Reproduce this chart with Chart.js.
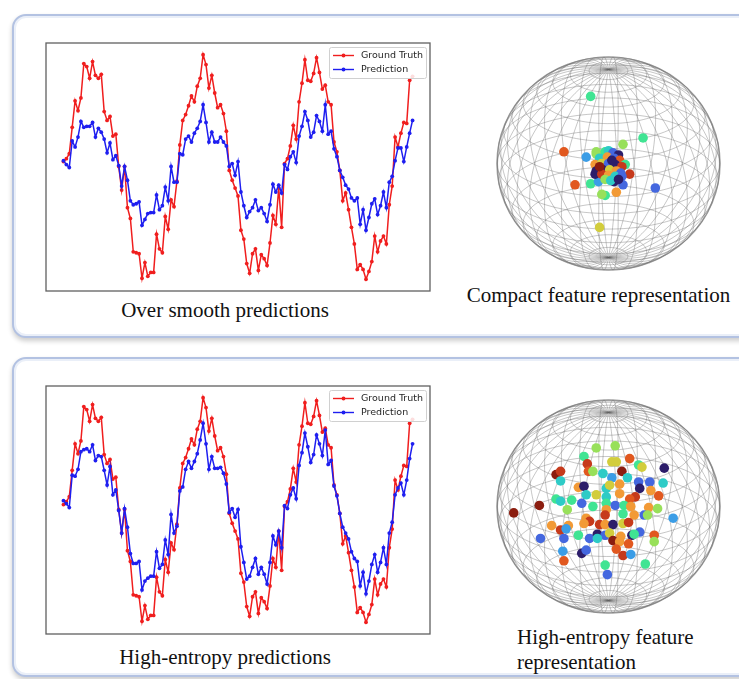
<!DOCTYPE html>
<html><head><meta charset="utf-8">
<script src="https://cdn.jsdelivr.net/npm/chart.js@4/dist/chart.umd.min.js"></script>
<style>
html,body{margin:0;padding:0;background:#fff;}
#root{position:relative;width:739px;height:679px;overflow:hidden;background:#fff;}
.panel{position:absolute;box-sizing:border-box;border:2px solid #b3c2e2;border-radius:14px;
  box-shadow:0 3px 5px rgba(0,0,0,0.2), inset 0 0 0 2px #eaeff8;background:#fff;}
canvas{position:absolute;}
.cap{position:absolute;font-family:"Liberation Serif","Times New Roman",serif;font-size:21px;color:#111;white-space:nowrap;line-height:24px;}
</style></head>
<body><div id="root">
<div class="panel" style="left:12px;top:14px;width:760px;height:324px;"></div>
<div class="panel" style="left:12px;top:357px;width:760px;height:320px;"></div>
<canvas id="l1" width="392" height="256" style="left:42px;top:39px;"></canvas>
<canvas id="l2" width="392" height="256" style="left:42px;top:382px;"></canvas>
<canvas id="s1" width="243" height="233" style="left:487px;top:47px;"></canvas>
<canvas id="s2" width="243" height="233" style="left:487px;top:390px;"></canvas>
<div class="cap" style="left:0;width:450px;text-align:center;top:298px;">Over smooth predictions</div>
<div class="cap" style="left:440px;width:317px;text-align:center;top:283px;">Compact feature representation</div>
<div class="cap" style="left:0;width:450px;text-align:center;top:645px;">High-entropy predictions</div>
<div class="cap" style="left:517px;top:625px;">High-entropy feature</div>
<div class="cap" style="left:517px;top:650px;">representation</div>
</div>
<script>
// ---------- time-series data ----------
const groundTruth = [0.05,0.08,0.13,0.40,0.67,0.57,0.70,1.05,1.02,0.90,1.07,0.93,0.90,0.94,0.56,0.47,0.51,0.31,0.33,0.00,
-0.24,0.00,-0.42,-0.53,-0.87,-0.88,-0.89,-1.14,-0.98,-1.12,-1.08,-1.08,-0.69,-0.84,-0.88,-0.51,-0.64,-0.34,-0.41,-0.15,
0.22,0.47,0.53,0.62,0.72,0.66,0.82,0.90,1.14,1.04,0.80,0.93,0.75,0.60,0.63,0.54,0.36,-0.04,-0.14,-0.22,
-0.30,-0.65,-0.74,-0.99,-1.09,-0.89,-0.84,-1.06,-0.90,-0.94,-1.01,-0.78,-0.50,-0.59,-0.22,-0.62,0.03,0.08,0.21,0.42,
0.28,0.66,0.85,1.09,0.88,0.87,0.95,1.11,0.96,0.79,0.83,0.66,0.63,0.25,0.15,-0.04,-0.35,-0.27,-0.44,-0.62,
-0.79,-1.05,-1.00,-1.05,-1.15,-1.07,-0.97,-0.71,-0.87,-0.76,-0.71,-0.79,-0.39,-0.20,0.30,0.20,0.34,0.45,0.44,0.88,0.92];
const predSmooth = [0.06,0.02,-0.01,0.26,0.20,0.30,0.46,0.40,0.41,0.41,0.45,0.30,0.39,0.35,0.28,0.14,0.24,0.07,0.11,0.01,
-0.20,0.00,-0.14,-0.35,-0.39,-0.38,-0.36,-0.60,-0.54,-0.48,-0.47,-0.47,-0.29,-0.44,-0.40,-0.21,-0.35,0.00,-0.16,-0.16,
0.13,0.12,0.28,0.31,0.25,0.34,0.39,0.46,0.63,0.45,0.25,0.35,0.25,0.25,0.30,0.25,0.21,0.00,0.03,-0.09,
0.05,-0.26,-0.40,-0.52,-0.46,-0.42,-0.34,-0.45,-0.42,-0.48,-0.56,-0.39,-0.18,-0.26,-0.19,-0.27,0.02,-0.03,0.10,0.15,
0.04,0.31,0.41,0.56,0.47,0.30,0.35,0.52,0.46,0.36,0.63,0.33,0.36,0.18,0.10,-0.04,-0.11,-0.19,-0.23,-0.32,
-0.35,-0.32,-0.59,-0.44,-0.65,-0.52,-0.38,-0.33,-0.49,-0.40,-0.26,-0.42,-0.16,-0.10,0.06,0.19,0.19,0.05,0.20,0.34,0.47];
const predEntropy = [0.09,0.06,0.02,0.35,0.34,0.41,0.59,0.61,0.62,0.59,0.66,0.50,0.55,0.54,0.40,0.25,0.44,0.15,0.20,-0.01,
-0.24,0.01,-0.18,-0.45,-0.55,-0.55,-0.53,-0.82,-0.73,-0.70,-0.68,-0.68,-0.43,-0.60,-0.56,-0.31,-0.46,-0.05,-0.24,-0.17,
0.19,0.23,0.41,0.49,0.42,0.49,0.57,0.71,0.88,0.67,0.41,0.54,0.42,0.42,0.43,0.37,0.26,-0.03,0.01,-0.08,
0.00,-0.38,-0.54,-0.71,-0.68,-0.59,-0.50,-0.66,-0.59,-0.66,-0.76,-0.54,-0.27,-0.36,-0.22,-0.39,0.04,0.01,0.15,0.22,
0.11,0.45,0.58,0.78,0.64,0.48,0.56,0.76,0.67,0.55,0.81,0.46,0.50,0.24,0.14,-0.04,-0.18,-0.24,-0.30,-0.43,
-0.50,-0.53,-0.78,-0.64,-0.86,-0.73,-0.56,-0.46,-0.64,-0.54,-0.39,-0.56,-0.24,-0.13,0.15,0.22,0.27,0.15,0.30,0.52,0.67];
const seriesLabels = ['Ground Truth','Prediction'];

// ---------- feature points on the sphere (projected u, v, cluster id) ----------
const compactU = [-0.16,0.31,0.13,-0.40,-0.20,-0.11,0.19,-0.30,-0.16,-0.09,0.05,0.13,0.42,-0.03,-0.06,0.07,-0.08,
-0.11,-0.03,0.00,0.04,0.09,-0.08,-0.01,0.05,0.10,0.15,-0.12,-0.06,0.00,0.06,0.12,-0.11,-0.05,0.01,0.07,0.11,-0.12,-0.06,0.00,0.06,0.12,-0.03,0.02,0.09,-0.08,0.03];
const compactV = [0.63,0.24,0.18,0.11,0.06,0.11,-0.10,-0.20,-0.19,-0.17,-0.17,-0.20,-0.23,-0.30,-0.29,-0.27,-0.60,
0.09,0.11,0.12,0.10,0.08,0.05,0.06,0.05,0.03,-0.01,-0.01,0.00,0.00,-0.01,-0.03,-0.07,-0.06,-0.06,-0.07,-0.09,-0.10,-0.10,-0.11,-0.12,-0.12,-0.15,-0.16,-0.15,-0.03,0.03];
const compactC = [4,4,5,8,2,5,9,8,4,2,0,1,1,4,5,7,6,
5,4,3,1,0,3,7,1,8,4,7,6,1,0,9,0,0,6,7,1,0,9,7,3,1,5,3,0,10,0];

const entropyU = [-0.11,0.06,-0.22,-0.19,0.19,0.03,0.07,0.27,0.30,0.50,-0.47,-0.43,-0.18,-0.14,-0.05,0.12,0.03,0.17,-0.43,0.27,
0.37,0.49,-0.27,-0.22,-0.02,0.10,0.28,0.38,0.01,0.10,-0.11,-0.20,0.45,0.24,0.19,-0.02,-0.47,-0.43,-0.33,-0.24,
-0.14,-0.02,0.06,0.14,0.20,-0.62,-0.85,-0.37,-0.02,0.36,0.44,-0.03,0.13,0.23,0.32,0.35,0.58,-0.20,-0.17,-0.08,
-0.22,-0.03,0.04,0.13,0.18,-0.51,-0.36,-0.43,-0.38,-0.27,-0.17,-0.10,-0.03,0.01,0.11,0.21,0.28,0.23,0.41,-0.61,
-0.40,0.04,0.10,0.18,0.41,-0.10,0.07,-0.41,-0.24,-0.20,0.13,0.20,-0.40,0.33,-0.03,-0.01];
const entropyV = [0.55,0.57,0.47,0.40,0.45,0.42,0.42,0.39,0.37,0.36,0.30,0.33,0.33,0.33,0.31,0.33,0.27,0.27,0.24,0.23,
0.23,0.22,0.18,0.19,0.17,0.21,0.17,0.15,0.20,0.12,0.11,0.11,0.10,0.09,0.07,0.09,0.07,0.05,0.06,0.03,
0.00,0.03,0.01,0.01,0.00,0.01,-0.06,-0.03,-0.03,-0.01,-0.02,-0.08,-0.07,-0.08,-0.08,-0.08,-0.11,-0.11,-0.14,-0.17,
-0.16,-0.17,-0.17,-0.16,-0.15,-0.18,-0.18,-0.22,-0.21,-0.27,-0.30,-0.26,-0.27,-0.25,-0.28,-0.27,-0.24,-0.26,-0.27,-0.30,
-0.30,-0.32,-0.33,-0.35,-0.33,-0.30,-0.40,-0.42,-0.44,-0.41,-0.46,-0.45,-0.51,-0.54,-0.55,-0.64];
const entropyC = [5,5,4,9,8,6,6,4,6,0,10,9,8,5,3,10,2,3,3,1,
1,3,7,0,3,7,0,7,6,7,6,3,8,9,8,3,4,3,4,1,
4,4,1,4,7,10,10,5,7,7,5,9,4,7,1,5,2,7,9,9,
7,7,0,6,9,7,7,9,2,4,1,0,1,6,7,0,1,4,8,1,
1,10,7,8,5,3,8,2,0,1,9,2,8,4,4,1];
const clusterPalette = ['#2c1d6a','#4467df','#3b9de6','#2ecbc6','#40e493','#98e05a','#d2cd3c','#f29a36','#e1581f','#c63a1b','#8b1d0f'];

// ---------- plugins ----------
const RED = '#f01e1e', BLUE = '#1e1ef0';
const framePlugin = {
  id:'frame',
  afterDraw(chart){
    const {ctx, chartArea:a} = chart;
    ctx.save(); ctx.strokeStyle='#606060'; ctx.lineWidth=1.3;
    ctx.strokeRect(a.left, a.top, a.right-a.left, a.bottom-a.top); ctx.restore();
  }
};
const mplLegend = {
  id:'mplLegend',
  afterDatasetsDraw(chart){
    const {ctx, chartArea:a} = chart;
    const w=97, h=31, x=a.right-w-4, y=a.top+4;
    ctx.save();
    ctx.fillStyle='rgba(255,255,255,0.85)'; ctx.strokeStyle='#d0d0d0'; ctx.lineWidth=1;
    ctx.beginPath(); ctx.roundRect(x+0.5,y+0.5,w,h,2); ctx.fill(); ctx.stroke();
    ctx.font='9.5px "DejaVu Sans"'; ctx.textBaseline='middle';
    const order=[1,0]; // Ground Truth, Prediction
    order.forEach((di,k)=>{
      const ds=chart.data.datasets[di]; const yy=y+8.5+k*14;
      ctx.strokeStyle=ds.borderColor; ctx.lineWidth=1.4;
      ctx.beginPath(); ctx.moveTo(x+4,yy); ctx.lineTo(x+25,yy); ctx.stroke();
      ctx.fillStyle=ds.borderColor; ctx.beginPath(); ctx.arc(x+14.5,yy,1.9,0,Math.PI*2); ctx.fill();
      ctx.fillStyle='#262626'; ctx.fillText(ds.label, x+32, yy+0.5);
    });
    ctx.restore();
  }
};
function lineChart(id, pred){
  new Chart(document.getElementById(id), {
    type:'line',
    data:{datasets:[
      {label:seriesLabels[1], data:pred.map((v,i)=>({x:i,y:v})), borderColor:BLUE, backgroundColor:BLUE,
       borderWidth:1.5, pointRadius:1.9, pointBorderWidth:0, order:0},
      {label:seriesLabels[0], data:groundTruth.map((v,i)=>({x:i,y:v})), borderColor:RED, backgroundColor:RED,
       borderWidth:1.5, pointRadius:1.9, pointBorderWidth:0, order:1}
    ]},
    options:{responsive:false, animation:false, layout:{padding:1},
      elements:{line:{tension:0}},
      plugins:{legend:{display:false}, tooltip:{enabled:false}},
      scales:{x:{type:'linear', min:-6, max:126, display:false}, y:{min:-1.27, max:1.26, display:false}}},
    plugins:[framePlugin, mplLegend]
  });
}
lineChart('l1', predSmooth);
lineChart('l2', predEntropy);

const sphereGrid = {
  id:'sphereGrid',
  beforeDatasetsDraw(chart){
    const {ctx, scales:{x,y}} = chart;
    const e = 28*Math.PI/180, az = 5*Math.PI/180;
    const P = (lat,lon)=>{
      const cl=Math.cos(lat), sl=Math.sin(lat);
      const sx=cl*Math.sin(lon+az), d=cl*Math.cos(lon+az);
      const sy=sl*Math.cos(e) - d*Math.sin(e);
      return [x.getPixelForValue(sx), y.getPixelForValue(sy)];
    };
    ctx.save();
    ctx.strokeStyle='rgba(100,100,100,0.36)'; ctx.lineWidth=1;
    const nLon=36, nLat=18;
    for(let i=0;i<nLon;i++){
      const lon=i*2*Math.PI/nLon; ctx.beginPath();
      for(let k=0;k<=72;k++){ const p=P(-Math.PI/2+k*Math.PI/72, lon); k?ctx.lineTo(p[0],p[1]):ctx.moveTo(p[0],p[1]); }
      ctx.stroke();
    }
    for(let j=1;j<nLat;j++){
      const lat=-Math.PI/2+j*Math.PI/nLat; ctx.beginPath();
      for(let k=0;k<=120;k++){ const p=P(lat, k*2*Math.PI/120); k?ctx.lineTo(p[0],p[1]):ctx.moveTo(p[0],p[1]); }
      ctx.stroke();
    }
    const cx=x.getPixelForValue(0), cy=y.getPixelForValue(0);
    const rx=x.getPixelForValue(1)-cx, ry=cy-y.getPixelForValue(1);
    ctx.strokeStyle='rgba(120,120,120,0.65)'; ctx.lineWidth=1.5;
    ctx.beginPath(); ctx.ellipse(cx,cy,rx,ry,0,0,Math.PI*2); ctx.stroke();
    ctx.restore();
  }
};
function sphereChart(id, U, V, C){
  new Chart(document.getElementById(id), {
    type:'scatter',
    data:{datasets:[{data:U.map((u,i)=>({x:u,y:V[i]})),
      backgroundColor:U.map((u,i)=>clusterPalette[C[i]]), borderWidth:0, pointRadius:4.8}]},
    options:{responsive:false, animation:false, layout:{padding:10},
      plugins:{legend:{display:false}, tooltip:{enabled:false}},
      scales:{x:{min:-1,max:1,display:false}, y:{min:-1,max:1,display:false}}},
    plugins:[sphereGrid]
  });
}
sphereChart('s1', compactU, compactV, compactC);
sphereChart('s2', entropyU, entropyV, entropyC);
</script>
</body></html>
